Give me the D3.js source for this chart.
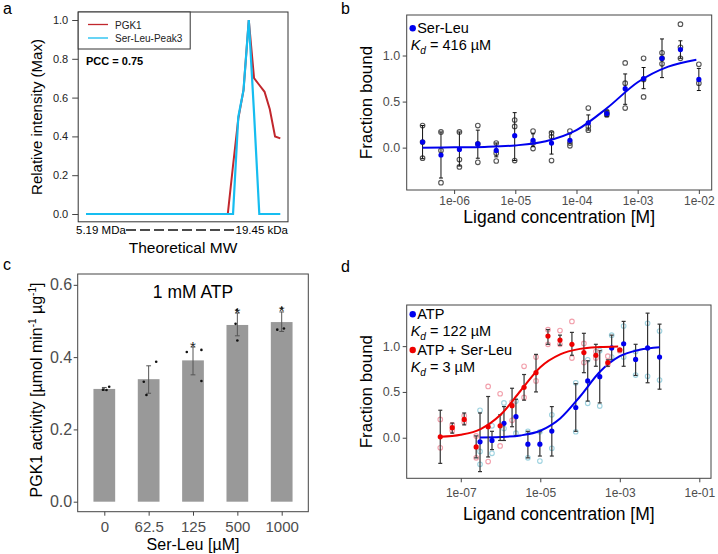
<!DOCTYPE html>
<html>
<head>
<meta charset="utf-8">
<script src="https://cdn.jsdelivr.net/npm/d3@7/dist/d3.min.js"></script>
<style>
body { margin: 0; background: #fff; }
svg { font-family: "Liberation Sans", Arial, Helvetica, sans-serif; }
</style>
</head>
<body>
<script>
// ---------- data ----------
// a : co-elution profiles (38 fractions, large -> small MW)
const pgk1Intensity = [0,0,0,0,0,0,0,0,0,0,0,0,0,0,0,0,0,0,0,0,0,0,0,0,0,0,0,
    0,0.25,0.49,0.64,1.0,0.70,0.665,0.63,0.54,0.40,0.39];
const serLeuPeak3 = [0,0,0,0,0,0,0,0,0,0,0,0,0,0,0,0,0,0,0,0,0,0,0,0,0,0,0,0,0,
    0.50,0.64,1.0,0.52,0,0,0,0,0];
const mwLabels = ["5.19 MDa", "19.45 kDa"];
const pccText = "PCC = 0.75";

// b : Ser-Leu binding
const bConc = [3.05e-7,6.1e-7,1.22e-6,2.44e-6,4.88e-6,9.77e-6,1.95e-5,3.91e-5,
    7.81e-5,1.56e-4,3.13e-4,6.25e-4,1.25e-3,2.5e-3,5e-3,1e-2];
const bMean = [0.06,-0.08,-0.02,0.04,-0.03,0.13,0.08,0.05,0.08,0.27,0.37,0.64,0.75,0.97,1.065,0.74];
const bLow  = [-0.12,-0.33,-0.20,-0.115,-0.10,-0.14,0.01,-0.07,0.05,0.19,0.34,0.47,0.64,0.76,0.97,0.62];
const bHigh = [0.24,0.17,0.17,0.19,0.05,0.38,0.15,0.17,0.15,0.355,0.40,0.80,0.87,1.18,1.16,0.86];
const bReps = [[0.24,0.06,-0.115],[0.17,-0.03,-0.38],[0.17,-0.13,-0.21],[0.24,0.04,-0.16],
    [0.05,-0.06,-0.145],[0.30,0.23,-0.14],[0.18,0.05,-0.01],[0.16,0.12,-0.14],
    [0.18,0.05,0.02],[0.43,0.23,0.19],[0.39,0.37,0.355],[0.92,0.70,0.43],
    [0.97,0.74,0.55],[1.03,0.97,0.91],[1.34,1.09,0.97],[0.905,0.70]];
const bFitConc = [3.05e-7,1e-6,3.16e-6,1e-5,3.16e-5,1e-4,3.16e-4,1e-3,3.16e-3,9.1e-3];
const bFitVal  = [0.0,0.003,0.008,0.024,0.07,0.19,0.43,0.71,0.88,0.955];
const bTicks = [1e-6,1e-5,1e-4,1e-3,1e-2];
const bTickLabels = ["1e-06","1e-05","1e-04","1e-03","1e-02"];

// c : PGK1 activity
const cDose = ["0","62.5","125","500","1000"];
const cMean = [0.312,0.339,0.391,0.489,0.497];
const cLow  = [0.308,0.300,0.351,0.459,0.471];
const cHigh = [0.316,0.376,0.428,0.522,0.525];
const cReps = [[0.310,0.309,0.318],[0.332,0.295,0.387],[0.414,0.420,0.334],
    [0.530,0.492,0.446],[0.476,0.479,0.535]];
const cJitter = [[-0.03,0.05,0.11],[-0.11,-0.05,0.17],[-0.14,0.19,0.19],[-0.01,-0.04,0],[-0.10,0.05,0]];
const cStars = ["","","*","*","*"];

// d : ATP binding +/- Ser-Leu
const dAtpConc = [3.05e-7,6.1e-7,1.22e-6,2.44e-6,4.88e-6,9.77e-6,1.95e-5,3.91e-5,
    7.81e-5,1.56e-4,3.13e-4,6.25e-4,1.25e-3,2.5e-3,5e-3,1e-2];
const dAtpMean = [-0.045,-0.03,0.157,0.23,-0.07,-0.07,0.073,null,0.33,0.62,0.666,0.98,1.026,0.855,0.98,0.88];
const dAtpLow  = [-0.37,-0.13,-0.03,0.02,-0.22,-0.20,-0.20,null,0.07,0.40,0.38,0.85,0.78,0.68,0.60,0.53];
const dAtpHigh = [0.27,0.07,0.34,0.42,0.07,0.065,0.34,null,0.59,0.84,0.95,1.12,1.27,1.02,1.36,1.24];
const dAtpReps = [[0.30,-0.15,-0.29],[0.13,-0.17],[0.38,0.10],[0.40,0.05],[0.07,-0.22],
    [0.065,-0.255],[0.25,-0.115],[],[0.60,0.065],[0.85,0.375],[0.95,0.345],[1.12,0.88],
    [1.22,0.88],[0.94,0.684],[1.25,0.67],[1.165,0.63]];
const dAtpFitConc = [3.05e-7,1e-6,3.16e-6,1e-5,3.16e-5,1e-4,3.16e-4,1e-3,3.16e-3,1e-2];
const dAtpFitVal  = [0.003,0.008,0.025,0.076,0.21,0.45,0.72,0.89,0.96,0.988];

const dMixConc = [3.05e-8,6.1e-8,1.22e-7,2.44e-7,4.88e-7,9.77e-7,1.95e-6,3.91e-6,
    7.81e-6,1.56e-5,3.13e-5,6.25e-5,1.25e-4,2.5e-4,5e-4,1e-3];
const dMixMean = [0.01,0.11,0.20,-0.10,0.12,0.13,0.35,0.55,0.71,1.11,1.066,1.02,0.93,0.90,0.82,0.96];
const dMixLow  = [-0.28,0.05,0.14,-0.22,-0.21,-0.03,0.12,0.41,0.50,1.02,1.01,0.90,0.71,0.78,0.78,0.94];
const dMixHigh = [0.30,0.16,0.27,0.02,0.45,0.25,0.54,0.69,0.91,1.18,1.12,1.15,1.14,1.02,0.85,0.97];
const dMixReps = [[0.20,-0.11],[0.14,0.08],[0.24,0.17],[0.02,-0.22],[0.56,-0.26],[0.48,-0.09],
    [0.39,0.19],[0.78,0.44],[0.88,0.62],[1.18,1.02],[1.17,1.02],[1.27,0.87],[1.03,0.82],
    [0.94,0.87],[0.89,0.80],[0.95]];
const dMixFitConc = [3.05e-8,1e-7,3.16e-7,1e-6,3.16e-6,1e-5,3.16e-5,1e-4,3.16e-4,9.1e-4];
const dMixFitVal  = [0.01,0.032,0.095,0.25,0.51,0.77,0.91,0.97,0.99,0.997];
const dTicks = [1e-7,1e-5,1e-3,1e-1];
const dTickLabels = ["1e-07","1e-05","1e-03","1e-01"];

// ---------- drawing ----------
const svg = d3.select("body").append("svg")
    .attr("width", 718).attr("height", 554);

function styleAxis(g, size, color) {
    g.select(".domain").remove();
    g.selectAll(".tick line").attr("stroke", "#444");
    g.selectAll(".tick text").attr("fill", color).style("font-size", size + "px");
}

function panelLetter(t, x, y) {
    svg.append("text").attr("x", x).attr("y", y).style("font-size", "16px").text(t);
}

function kdText(g, x, y, value, size) {
    let t = g.append("text").attr("x", x).attr("y", y).style("font-size", size + "px");
    t.append("tspan").attr("font-style", "italic").text("K");
    t.append("tspan").attr("font-style", "italic").attr("dy", 4).style("font-size", (size * 0.7) + "px").text("d");
    t.append("tspan").attr("dy", -4).text(" = " + value);
}

// panel a
function drawPanelA() {
    let x = d3.scaleLinear().domain([0, pgk1Intensity.length - 1]).range([86, 280.3]),
        y = d3.scaleLinear().domain([0, 1]).range([214, 20]);
    let g = svg.append("g");

    let line = d3.line().x((d, i) => x(i)).y(d => y(d));
    g.append("path").datum(pgk1Intensity).attr("d", line)
        .attr("fill", "none").attr("stroke", "#c1272d").attr("stroke-width", 2);
    g.append("path").datum(serLeuPeak3).attr("d", line)
        .attr("fill", "none").attr("stroke", "#16bdf0").attr("stroke-width", 2.2);

    g.append("rect").attr("x", 78.2).attr("y", 12).attr("width", 209.8).attr("height", 209.8)
        .attr("fill", "none").attr("stroke", "#333");

    let ay = g.append("g").attr("transform", "translate(78.2,0)")
        .call(d3.axisLeft(y).tickValues([0, .2, .4, .6, .8, 1]).tickFormat(d3.format(".1f")).tickSize(6).tickPadding(4));
    styleAxis(ay, 11, "#222");

    // legend
    g.append("rect").attr("x", 78.2).attr("y", 12).attr("width", 112).attr("height", 37)
        .attr("fill", "#fff").attr("stroke", "#333");
    [["PGK1", "#c1272d", 24.5], ["Ser-Leu-Peak3", "#16bdf0", 38]].forEach(l => {
        g.append("line").attr("x1", 88).attr("x2", 108).attr("y1", l[2]).attr("y2", l[2])
            .attr("stroke", l[1]).attr("stroke-width", 1.3);
        g.append("text").attr("x", 115).attr("y", l[2] + 4).style("font-size", "10px")
            .attr("fill", "#222").text(l[0]);
    });
    g.append("text").attr("x", 86).attr("y", 65).style("font-size", "11px")
        .style("font-weight", "bold").text(pccText);

    // x axis: MW range
    g.append("text").attr("x", 76).attr("y", 234).style("font-size", "11.5px").text(mwLabels[0]);
    g.append("text").attr("x", 288).attr("y", 234).attr("text-anchor", "end")
        .style("font-size", "11.5px").text(mwLabels[1]);
    g.append("line").attr("x1", 126).attr("x2", 236).attr("y1", 230).attr("y2", 230)
        .attr("stroke", "#111").attr("stroke-width", 1.6).attr("stroke-dasharray", "10,4");
    g.append("text").attr("x", 183).attr("y", 253).attr("text-anchor", "middle")
        .style("font-size", "15.5px").text("Theoretical MW");
    g.append("text").attr("transform", "translate(42,117) rotate(-90)").attr("text-anchor", "middle")
        .style("font-size", "15px").text("Relative intensity (Max)");
}

// panels b and d
function drawBinding(p) {
    let x = d3.scaleLog().domain(p.xDomain).range([p.box[0], p.box[2]]),
        y = d3.scaleLinear().domain(p.yDomain).range([p.box[3], p.box[1]]);
    let g = svg.append("g");

    let ax = g.append("g").attr("transform", "translate(0," + p.box[3] + ")")
        .call(d3.axisBottom(x).tickValues(p.ticks).tickFormat((d, i) => p.tickLabels[i]).tickSize(4).tickPadding(p.xPad));
    styleAxis(ax, 12, "#4d4d4d");
    let ay = g.append("g").attr("transform", "translate(" + p.box[0] + ",0)")
        .call(d3.axisLeft(y).tickValues([0, 0.5, 1]).tickFormat(d3.format(".1f")).tickSize(4).tickPadding(2.5));
    styleAxis(ay, 12.5, "#4d4d4d");

    p.series.forEach(s => {
        let pts = s.conc.map((c, i) => ({c: c, m: s.mean[i], lo: s.low[i], hi: s.high[i], reps: s.reps[i]}))
            .filter(d => d.m !== null);
        // replicates
        g.append("g").selectAll("circle")
            .data(pts.flatMap(d => d.reps.map(r => ({c: d.c, v: r}))))
            .enter().append("circle")
            .attr("cx", d => x(d.c)).attr("cy", d => y(d.v)).attr("r", 2.3)
            .attr("fill", "none").attr("stroke", s.repColor).attr("stroke-width", 1.1);
        // error bars
        let eb = g.append("g").selectAll("g").data(pts).enter().append("g")
            .attr("stroke", s.barColor).attr("stroke-width", s.barWidth);
        eb.append("line").attr("x1", d => x(d.c)).attr("x2", d => x(d.c))
            .attr("y1", d => y(d.lo)).attr("y2", d => y(d.hi));
        eb.append("line").attr("x1", d => x(d.c) - 2).attr("x2", d => x(d.c) + 2)
            .attr("y1", d => y(d.lo)).attr("y2", d => y(d.lo));
        eb.append("line").attr("x1", d => x(d.c) - 2).attr("x2", d => x(d.c) + 2)
            .attr("y1", d => y(d.hi)).attr("y2", d => y(d.hi));
        // means
        g.append("g").selectAll("circle").data(pts).enter().append("circle")
            .attr("cx", d => x(d.c)).attr("cy", d => y(d.m)).attr("r", 2.6)
            .attr("fill", s.color);
        // fit
        g.append("path").datum(s.fitConc.map((c, i) => [c, s.fitVal[i]]))
            .attr("d", d3.line().x(d => x(d[0])).y(d => y(d[1])).curve(d3.curveMonotoneX))
            .attr("fill", "none").attr("stroke", s.color).attr("stroke-width", 2);
    });

    g.append("rect").attr("x", p.box[0]).attr("y", p.box[1])
        .attr("width", p.box[2] - p.box[0]).attr("height", p.box[3] - p.box[1])
        .attr("fill", "none").attr("stroke", "#444");

    // legend
    p.legend.forEach(l => {
        g.append("circle").attr("cx", p.box[0] + 6).attr("cy", l.y - 5).attr("r", 3.2).attr("fill", l.color);
        g.append("text").attr("x", p.box[0] + 10.5).attr("y", l.y).style("font-size", "14.5px").text(l.name);
        kdText(g, p.box[0] + 4, l.y + 16.5, l.kd, 14.5);
    });

    let cx = (p.box[0] + p.box[2]) / 2;
    g.append("text").attr("x", cx).attr("y", p.titleY).attr("text-anchor", "middle")
        .style("font-size", "17.5px").text("Ligand concentration [M]");
    g.append("text").attr("transform", "translate(371.5," + ((p.box[1] + p.box[3]) / 2) + ") rotate(-90)")
        .attr("text-anchor", "middle").style("font-size", "17px").text("Fraction bound");
}

// panel c
function drawPanelC() {
    let x = d3.scalePoint().domain(cDose).range([77.7, 308.3]).padding(0.6),
        y = d3.scaleLinear().domain([-0.0277, 0.630]).range([511.7, 274]);
    let bw = x.step() * 0.49;
    let g = svg.append("g");

    g.selectAll(".bar").data(cMean).enter().append("rect")
        .attr("x", (d, i) => x(cDose[i]) - bw / 2).attr("y", d => y(d))
        .attr("width", bw).attr("height", d => y(0) - y(d))
        .attr("fill", "#999999");

    let eb = g.append("g").selectAll("g").data(cMean).enter().append("g")
        .attr("stroke", "#555").attr("stroke-width", 1);
    eb.append("line").attr("x1", (d, i) => x(cDose[i])).attr("x2", (d, i) => x(cDose[i]))
        .attr("y1", (d, i) => y(cLow[i])).attr("y2", (d, i) => y(cHigh[i]));
    [cLow, cHigh].forEach(arr => {
        eb.append("line").attr("x1", (d, i) => x(cDose[i]) - 2.4).attr("x2", (d, i) => x(cDose[i]) + 2.4)
            .attr("y1", (d, i) => y(arr[i])).attr("y2", (d, i) => y(arr[i]));
    });

    cReps.forEach((reps, i) => {
        g.append("g").selectAll("circle").data(reps).enter().append("circle")
            .attr("cx", (d, j) => x(cDose[i]) + cJitter[i][j] * x.step())
            .attr("cy", d => y(d)).attr("r", 1.3).attr("fill", "#111");
    });

    g.selectAll(".star").data(cStars).enter().append("text")
        .attr("x", (d, i) => x(cDose[i])).attr("y", (d, i) => y(cHigh[i]) + 4.5)
        .attr("text-anchor", "middle").style("font-size", "15px").attr("fill", "#222").text(d => d);

    g.append("rect").attr("x", 77.7).attr("y", 274).attr("width", 230.6).attr("height", 237.7)
        .attr("fill", "none").attr("stroke", "#444");

    let ax = g.append("g").attr("transform", "translate(0,511.7)")
        .call(d3.axisBottom(x).tickSize(4).tickPadding(5.5));
    styleAxis(ax, 15, "#4d4d4d");
    let ay = g.append("g").attr("transform", "translate(77.7,0)")
        .call(d3.axisLeft(y).tickValues([0, .2, .4, .6]).tickFormat(d3.format(".1f")).tickSize(4).tickPadding(1.5));
    styleAxis(ay, 16, "#4d4d4d");

    g.append("text").attr("x", 193).attr("y", 298).attr("text-anchor", "middle")
        .style("font-size", "17.5px").text("1 mM ATP");
    g.append("text").attr("x", 193).attr("y", 550).attr("text-anchor", "middle")
        .style("font-size", "16px").text("Ser-Leu [\u00b5M]");

    let yl = g.append("text").attr("transform", "translate(42,390) rotate(-90)")
        .attr("text-anchor", "middle").style("font-size", "16px");
    yl.append("tspan").text("PGK1 activity [\u00b5mol min");
    yl.append("tspan").attr("dy", -6).style("font-size", "10px").text("-1");
    yl.append("tspan").attr("dy", 6).text(" \u00b5g");
    yl.append("tspan").attr("dy", -6).style("font-size", "10px").text("-1");
    yl.append("tspan").attr("dy", 6).text("]");
}

drawPanelA();
drawBinding({
    box: [406.7, 15, 711.7, 190],
    xDomain: [Math.pow(10, -6.775), Math.pow(10, -1.79)],
    yDomain: [-0.46, 1.44],
    ticks: bTicks, tickLabels: bTickLabels, xPad: 2.5, titleY: 223,
    series: [{conc: bConc, mean: bMean, low: bLow, high: bHigh, reps: bReps,
        fitConc: bFitConc, fitVal: bFitVal, color: "#0000ee", repColor: "#555",
        barColor: "#111", barWidth: 1}],
    legend: [{name: "Ser-Leu", color: "#0000ee", y: 33.3, kd: "416 \u00b5M"}]
});
drawBinding({
    box: [406.7, 305, 711, 478.3],
    xDomain: [Math.pow(10, -8.36), Math.pow(10, -0.706)],
    yDomain: [-0.443, 1.449],
    ticks: dTicks, tickLabels: dTickLabels, xPad: 6, titleY: 520,
    series: [
        {conc: dAtpConc, mean: dAtpMean, low: dAtpLow, high: dAtpHigh, reps: dAtpReps,
            fitConc: dAtpFitConc, fitVal: dAtpFitVal, color: "#0000ee", repColor: "#9fd3e0",
            barColor: "#333", barWidth: 1.2},
        {conc: dMixConc, mean: dMixMean, low: dMixLow, high: dMixHigh, reps: dMixReps,
            fitConc: dMixFitConc, fitVal: dMixFitVal, color: "#ee0000", repColor: "#f2a0ac",
            barColor: "#333", barWidth: 1.2}],
    legend: [{name: "ATP", color: "#0000ee", y: 319.3, kd: "122 \u00b5M"},
             {name: "ATP + Ser-Leu", color: "#ee0000", y: 355, kd: "3 \u00b5M"}]
});
drawPanelC();

panelLetter("a", 3, 14);
panelLetter("b", 341, 14);
panelLetter("c", 3, 270);
panelLetter("d", 341, 271.5);
</script>
</body>
</html>
